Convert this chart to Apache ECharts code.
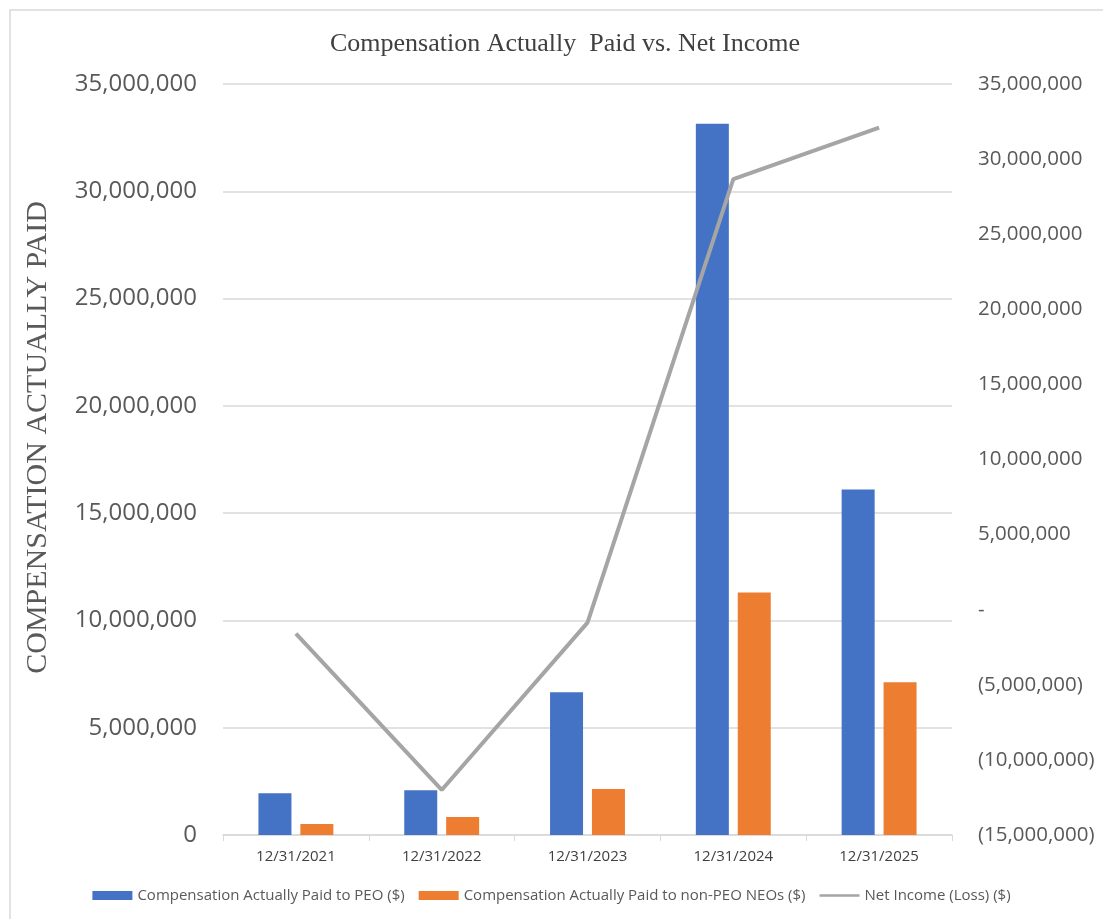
<!DOCTYPE html>
<html>
<head>
<meta charset="utf-8">
<script src="https://cdn.jsdelivr.net/npm/echarts@6/dist/echarts.min.js"></script>
<style>html,body{margin:0;padding:0;background:#fff;}#c{width:1103px;height:919px;}</style>
</head>
<body>
<div id="c"></div>
<script>
const categories = ['12/31/2021', '12/31/2022', '12/31/2023', '12/31/2024', '12/31/2025'];
const peoValues = [1950000, 2090000, 6650000, 33150000, 16100000];
const neoValues = [510000, 840000, 2140000, 11300000, 7120000];
const netIncome = [-1600000, -12000000, -860000, 28660000, 32100000];
const seriesNames = ['Compensation Actually Paid to PEO ($)', 'Compensation Actually Paid to non-PEO NEOs ($)', 'Net Income (Loss) ($)'];
const titleText = 'Compensation Actually  Paid vs. Net Income';
const leftAxisName = 'COMPENSATION ACTUALLY PAID';

function fmt(v) { return Math.abs(v).toLocaleString('en-US'); }

const lineIcon = 'path://M0,0L0.01,0L0.01,0.01Z M0,3.3L40,3.3L40,5.7L0,5.7Z M0,9L0.01,9L0.01,8.99Z';

const chart = echarts.init(document.getElementById('c'));
chart.setOption({
  animation: false,
  backgroundColor: '#fff',
  graphic: [{
    type: 'rect', shape: { x: 10, y: 10, width: 1120, height: 1000 },
    style: { fill: 'none', stroke: '#d9d9d9', lineWidth: 1.5 }, silent: true, z: -1
  }],
  title: {
    text: titleText, left: 560, textAlign: 'center', top: 26,
    textStyle: { fontFamily: 'Liberation Serif', fontWeight: 'normal', fontSize: 26, color: '#404040' }
  },
  legend: {
    bottom: 11, left: 'center', itemWidth: 40, itemHeight: 9, itemGap: 14,
    textStyle: { fontFamily: 'Open Sans', fontSize: 15, color: '#595959' },
    data: [
      { name: seriesNames[0], icon: 'rect' },
      { name: seriesNames[1], icon: 'rect' },
      { name: seriesNames[2], icon: lineIcon }
    ]
  },
  grid: { left: 223, right: 151, top: 84, bottom: 84 },
  xAxis: {
    type: 'category', data: categories,
    axisLine: { lineStyle: { color: '#d9d9d9', width: 1.5 } },
    axisTick: { show: true, length: 6, lineStyle: { color: '#d9d9d9' } },
    axisLabel: { fontFamily: 'Open Sans', fontSize: 15, color: '#404040', margin: 14 }
  },
  yAxis: [{
    type: 'value', min: 0, max: 35000000, interval: 5000000,
    name: leftAxisName, nameLocation: 'middle', nameGap: 170, nameRotate: 90,
    nameTextStyle: { fontFamily: 'Liberation Serif', fontSize: 30, color: '#595959', padding: [0, 0, 0, 44] },
    axisLine: { show: false }, axisTick: { show: false },
    splitLine: { lineStyle: { color: '#d9d9d9', width: 1.5 } },
    axisLabel: { fontFamily: 'Open Sans', fontSize: 24, color: '#595959', margin: 26,
      formatter: v => v === 0 ? '0' : fmt(v) }
  }, {
    type: 'value', min: -15000000, max: 35000000, interval: 5000000, position: 'right',
    axisLine: { show: false }, axisTick: { show: false }, splitLine: { show: false },
    axisLabel: { fontFamily: 'Open Sans', fontSize: 20.5, color: '#595959', margin: 26, align: 'left',
      formatter: v => v === 0 ? '-' : (v < 0 ? '(' + fmt(v) + ')' : fmt(v)) }
  }],
  series: [{
    name: seriesNames[0], type: 'bar', data: peoValues, barWidth: 33, barGap: '27%',
    itemStyle: { color: '#4472C4' }
  }, {
    name: seriesNames[1], type: 'bar', data: neoValues, barWidth: 33,
    itemStyle: { color: '#ED7D31' }
  }, {
    name: seriesNames[2], type: 'line', yAxisIndex: 1, data: netIncome, symbol: 'none',
    lineStyle: { color: '#A5A5A5', width: 4 }, itemStyle: { color: '#A5A5A5' }
  }]
});
</script>
</body>
</html>
